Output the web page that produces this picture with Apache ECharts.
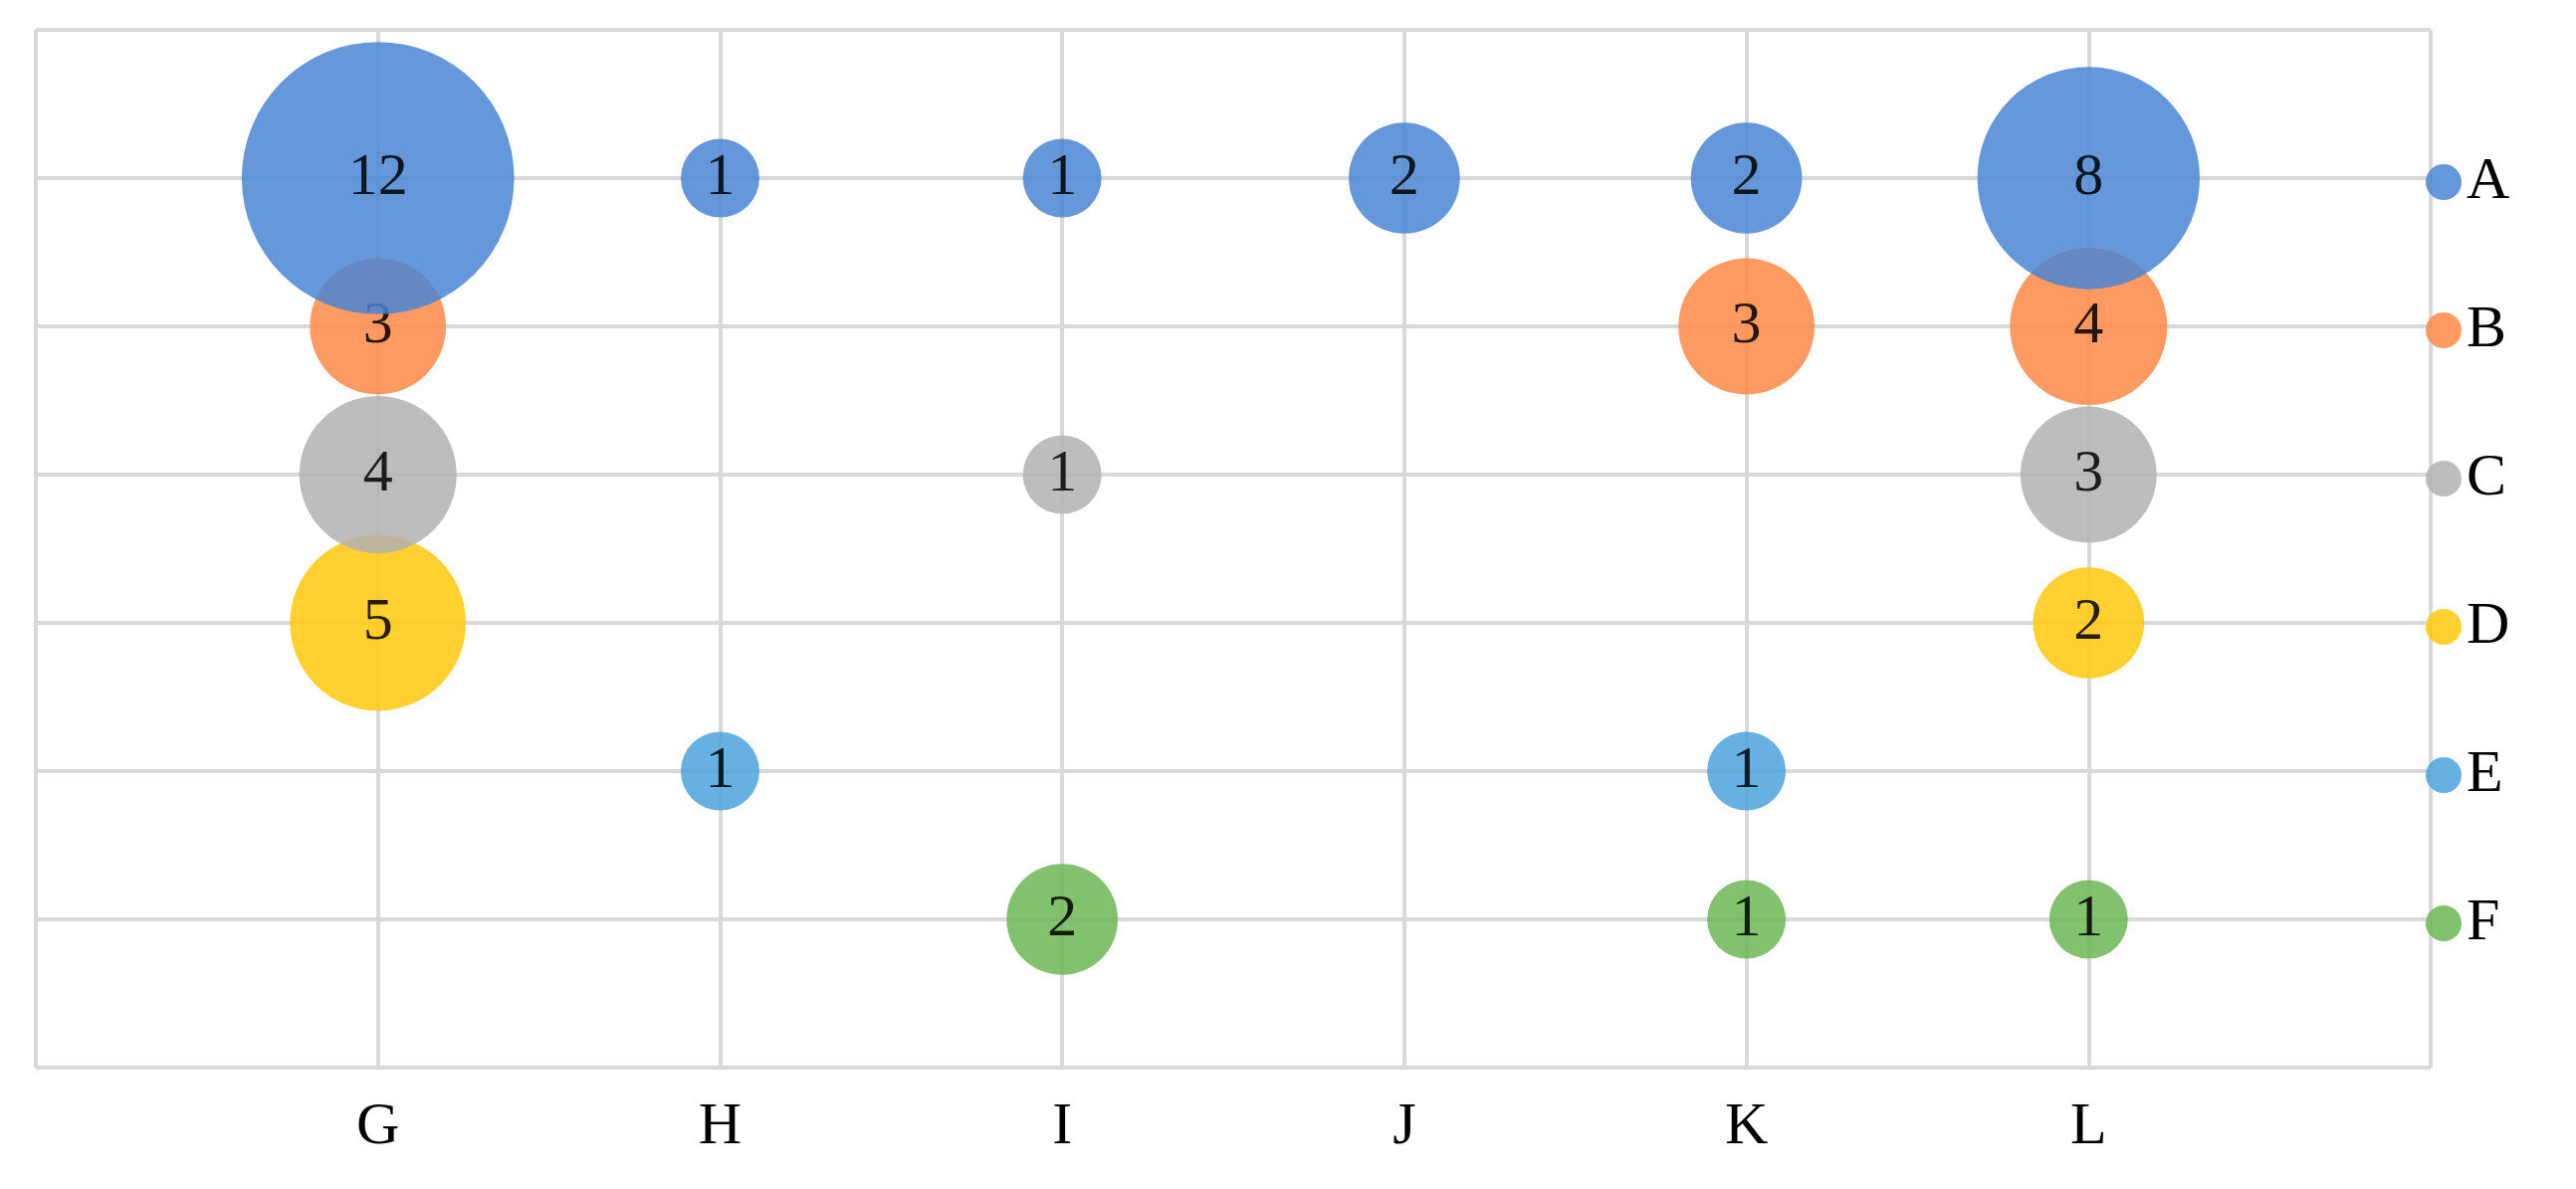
<!DOCTYPE html>
<html><head><meta charset="utf-8">
<script src="https://cdn.jsdelivr.net/npm/echarts@6/dist/echarts.min.js"></script>
<style>html,body{margin:0;background:#fff}#c{width:2588px;height:1195px}</style>
</head><body><div id="c"></div>
<script>
const xCats = ['G','H','I','J','K','L'];
const seriesNames = ['A','B','C','D','E','F'];
// values per series, per x category (null = none)
const valA = [12,1,1,2,2,8];
const valB = [3,null,null,null,3,4];
const valC = [4,null,1,null,null,3];
const valD = [5,null,null,null,null,2];
const valE = [null,1,null,null,1,null];
const valF = [null,null,2,null,1,1];
const allVals = [valA,valB,valC,valD,valE,valF];
const colors = ['#4a86d4','#ff8a47','#b2b2b2','#ffc80a','#4ba3dd','#6cb653'];
const font = 'Liberation Serif';
const series = seriesNames.map((n,i)=>({
  name:n, type:'scatter',
  data: allVals[i].map((v,j)=>v==null?null:[j+1, 6-i, v]).filter(d=>d),
  symbolSize: d=>79*Math.sqrt(d[2]),
  itemStyle:{color:colors[i], opacity:0.85},
  label:{show:true, formatter:p=>p.data[2], color:'#000', fontSize:60, fontFamily:font},
  z: 10-i
}));
const chart = echarts.init(document.getElementById('c'));
chart.setOption({
  animation:false,
  grid:{left:36,right:146,top:30,bottom:122},
  xAxis:{type:'value',min:0,max:7,interval:1,
    axisLine:{show:false},axisTick:{show:false},
    splitLine:{lineStyle:{color:'#d9d9d9',width:4}},
    axisLabel:{formatter:v=>xCats[v-1]||'',fontSize:60,fontFamily:font,color:'#000',margin:30}},
  yAxis:{type:'value',min:0,max:7,interval:1,
    axisLine:{show:false},axisTick:{show:false},axisLabel:{show:false},
    splitLine:{lineStyle:{color:'#d9d9d9',width:4}}},
  legend:{orient:'vertical',left:2432,top:148,icon:'circle',itemWidth:36,itemHeight:36,
    itemGap:89,textStyle:{fontSize:60,fontFamily:font,color:'#000',lineHeight:60},
    data:seriesNames},
  series
});
</script></body></html>
